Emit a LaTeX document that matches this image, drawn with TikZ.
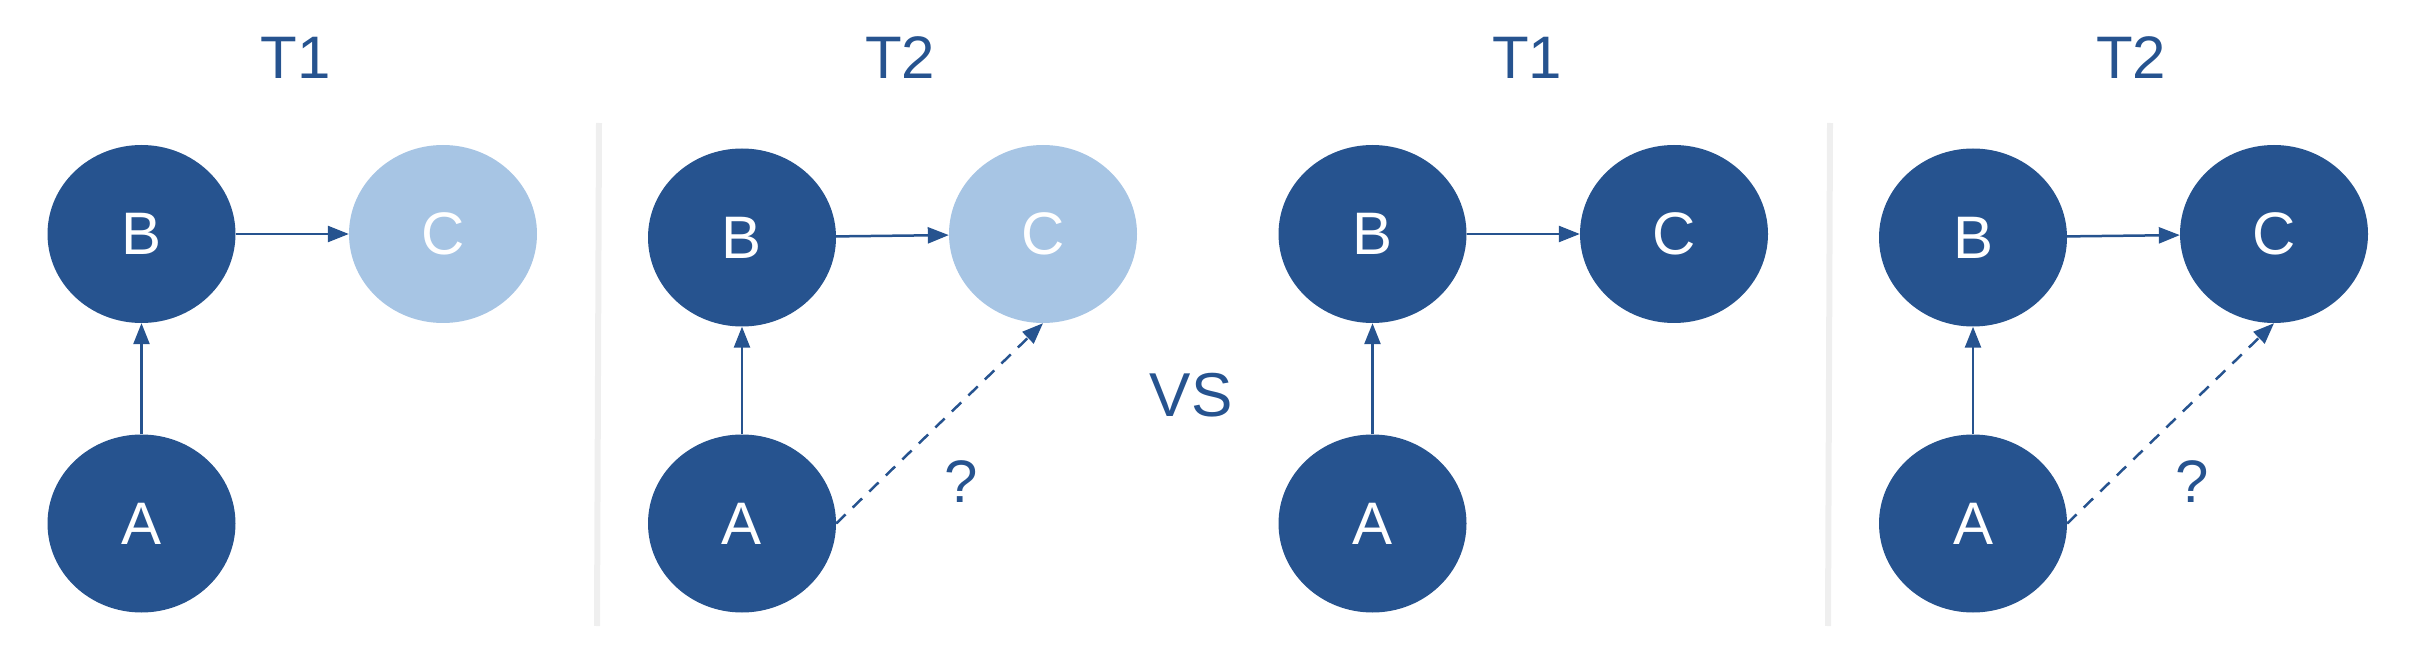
\documentclass[tikz,border=0pt]{standalone}
\usepackage{fontspec}
\setmainfont{Liberation Sans}
\usetikzlibrary{arrows.meta,shapes.geometric}
\definecolor{dkblue}{HTML}{26538F}
\definecolor{ltblue}{HTML}{A7C5E4}
\definecolor{sepgray}{HTML}{EFEFEF}
\begin{document}
\begin{tikzpicture}[x=1pt,y=-1pt,
  vnode/.style={ellipse, minimum width=188pt, minimum height=178pt, inner sep=0pt,
    text=white, font=\fontsize{60}{72}\selectfont},
  darknode/.style={vnode, fill=dkblue},
  lightnode/.style={vnode, fill=ltblue},
  lbl/.style={text=dkblue, font=\fontsize{60}{72}\selectfont, anchor=base, inner sep=0pt},
  edge/.style={draw=dkblue, line width=2.5pt, -{Triangle[length=21pt,width=16pt]}},
  guess/.style={edge, dash pattern=on 13pt off 10pt},
  sepline/.style={draw=sepgray, line width=6pt}
]
\useasboundingbox (0,0) rectangle (2418,652);

% separators
\coordinate (s1a) at (599,123); \coordinate (s1b) at (597,626);
\coordinate (s2a) at (1830,123); \coordinate (s2b) at (1828,626);
\draw[sepline] (s1a) -- (s1b);
\draw[sepline] (s2a) -- (s2b);

% titles
\node[lbl] (t1) at (296,79) {T1};
\node[lbl] (t2) at (900,79) {T2};
\node[lbl] (t3) at (1527,79) {T1};
\node[lbl] (t4) at (2131,79) {T2};
\node[lbl, font=\fontsize{62}{74}\selectfont] (vs) at (1191,416) {VS};
\node[lbl] (q1) at (961,502) {?};
\node[lbl] (q2) at (2192,502) {?};

% panel 1
\node[darknode] (A1) at (141.5,523.5) {A};
\node[darknode] (B1) at (141.5,234) {B};
\node[lightnode] (C1) at (443,234) {C};
\draw[edge] (A1) -- (B1);
\draw[edge] (B1) -- (C1);

% panel 2
\node[darknode] (A2) at (742,523.5) {A};
\node[darknode] (B2) at (742,237.5) {B};
\node[lightnode] (C2) at (1043,234) {C};
\draw[edge] (A2) -- (B2);
\draw[edge] (B2) -- (C2);
\draw[guess] (A2.east) -- (C2.south);

% panel 3
\node[darknode] (A3) at (1372.5,523.5) {A};
\node[darknode] (B3) at (1372.5,234) {B};
\node[darknode] (C3) at (1674,234) {C};
\draw[edge] (A3) -- (B3);
\draw[edge] (B3) -- (C3);

% panel 4
\node[darknode] (A4) at (1973,523.5) {A};
\node[darknode] (B4) at (1973,237.5) {B};
\node[darknode] (C4) at (2274,234) {C};
\draw[edge] (A4) -- (B4);
\draw[edge] (B4) -- (C4);
\draw[guess] (A4.east) -- (C4.south);
\end{tikzpicture}
\end{document}
